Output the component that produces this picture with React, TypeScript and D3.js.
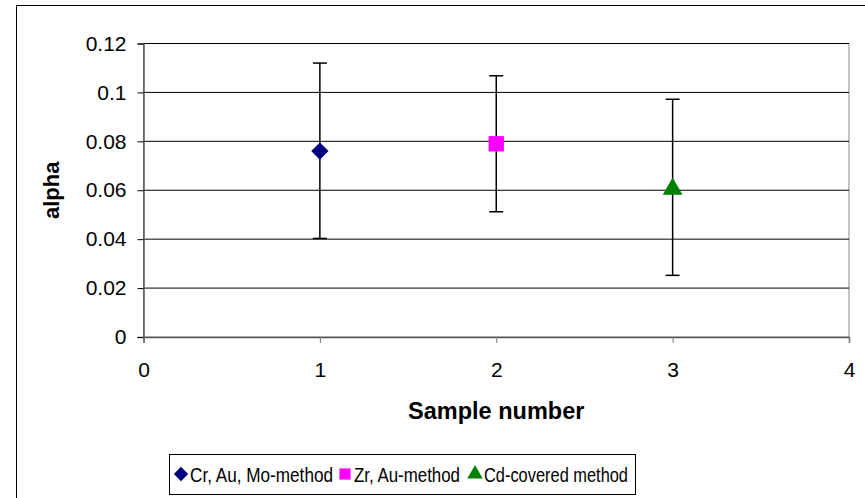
import React, { useEffect, useRef } from 'react'
import * as d3 from 'd3'

const samples = [1, 2, 3]
const alphaValues = [0.076, 0.079, 0.0605]
const errHigh = [0.112, 0.1068, 0.0972]
const errLow = [0.0403, 0.0512, 0.0252]
const seriesNames = ['Cr, Au, Mo-method', 'Zr, Au-method', 'Cd-covered method']
const seriesColors = ['#000080', '#FF00FF', '#008000']
const yTicks = [0, 0.02, 0.04, 0.06, 0.08, 0.1, 0.12]
const xTicks = [0, 1, 2, 3, 4]

const width = 865
const height = 498
const margin = { top: 43.5, right: 16, bottom: 161, left: 143.5 }
const font = "'Liberation Sans', Arial, sans-serif"

export default function App() {
    const ref = useRef<SVGSVGElement>(null)

    useEffect(() => {
        const svg = d3.select(ref.current)
        svg.selectAll('*').remove()

        const innerWidth = width - margin.left - margin.right
        const innerHeight = height - margin.top - margin.bottom

        const x = d3.scaleLinear().domain([0, 4]).range([0, innerWidth])
        const y = d3.scaleLinear().domain([0, 0.12]).range([innerHeight, 0])

        // outer chart frame
        svg.append('rect')
            .attr('x', 16.5).attr('y', 5.5)
            .attr('width', 900).attr('height', 600)
            .attr('fill', '#fff').attr('stroke', '#000')

        const g = svg.append('g')
            .attr('transform', `translate(${margin.left},${margin.top})`)

        // plot area border
        g.append('rect')
            .attr('width', innerWidth).attr('height', innerHeight)
            .attr('fill', 'none').attr('stroke', '#888')

        // gridlines
        g.selectAll('.grid')
            .data(yTicks.filter(t => t > 0))
            .enter().append('line')
            .attr('x1', 0).attr('x2', innerWidth)
            .attr('y1', d => y(d)).attr('y2', d => y(d))
            .attr('stroke', '#000')

        const yAxis = g.append('g')
            .call(d3.axisLeft(y).tickValues(yTicks).tickSize(6).tickPadding(11).tickFormat(d => String(+d)))
        yAxis.select('.domain').attr('stroke', '#555').attr('stroke-width', 1.5)
        yAxis.selectAll('.tick line').attr('stroke', '#000')
        yAxis.selectAll('text').attr('font-family', font).attr('font-size', 21).attr('fill', '#000')

        const xAxis = g.append('g')
            .attr('transform', `translate(0,${innerHeight})`)
            .call(d3.axisBottom(x).tickValues(xTicks).tickSize(6).tickPadding(19).tickFormat(d => String(d)))
        xAxis.select('.domain').attr('stroke', '#555').attr('stroke-width', 1.5)
        xAxis.selectAll('.tick line').attr('stroke', '#777')
        xAxis.selectAll('text').attr('font-family', font).attr('font-size', 21).attr('fill', '#000')

        // error bars
        const err = g.selectAll('.err')
            .data(samples)
            .enter().append('g')
            .attr('stroke', '#000').attr('stroke-width', 1.5)
        err.append('line')
            .attr('x1', d => x(d)).attr('x2', d => x(d))
            .attr('y1', (d, i) => y(errHigh[i])).attr('y2', (d, i) => y(errLow[i]))
        err.append('line')
            .attr('x1', d => x(d) - 7).attr('x2', d => x(d) + 7)
            .attr('y1', (d, i) => y(errHigh[i])).attr('y2', (d, i) => y(errHigh[i]))
        err.append('line')
            .attr('x1', d => x(d) - 7).attr('x2', d => x(d) + 7)
            .attr('y1', (d, i) => y(errLow[i])).attr('y2', (d, i) => y(errLow[i]))

        const shapes = [d3.symbolDiamond2, d3.symbolSquare2, d3.symbolTriangle2]
        const sizes = [190, 300, 280]
        g.selectAll('.pt')
            .data(samples)
            .enter().append('path')
            .attr('transform', (d, i) => `translate(${x(d)},${y(alphaValues[i])})`)
            .attr('d', (d, i) => d3.symbol(shapes[i], sizes[i])() as string)
            .attr('fill', (d, i) => seriesColors[i])
            .attr('stroke', 'none')

        // axis titles
        svg.append('text')
            .attr('x', margin.left + innerWidth / 2).attr('y', 419)
            .attr('text-anchor', 'middle')
            .attr('font-family', font).attr('font-weight', 'bold').attr('font-size', 23.5)
            .text('Sample number')
        svg.append('text')
            .attr('transform', `translate(59,${margin.top + innerHeight / 2}) rotate(-90)`)
            .attr('text-anchor', 'middle')
            .attr('font-family', font).attr('font-weight', 'bold').attr('font-size', 22)
            .text('alpha')

        // legend
        const legend = svg.append('g')
        legend.append('rect')
            .attr('x', 169.5).attr('y', 454.5).attr('width', 466).attr('height', 40)
            .attr('fill', '#fff').attr('stroke', '#000')
        const itemX = [181, 345, 475]
        const textW = [143, 106, 144]
        const items = legend.selectAll('.item')
            .data(seriesNames)
            .enter().append('g')
            .attr('transform', (d, i) => `translate(${itemX[i]},474)`)
        items.append('path')
            .attr('d', (d, i) => d3.symbol(shapes[i], [130, 160, 170][i])() as string)
            .attr('fill', (d, i) => seriesColors[i])
        items.append('text')
            .attr('x', 9).attr('y', 7.5)
            .attr('font-family', font).attr('font-size', 21)
            .attr('textLength', (d, i) => textW[i]).attr('lengthAdjust', 'spacingAndGlyphs')
            .text(d => d)
    }, [])

    return (
        <svg ref={ref} width={width} height={height}
            style={{ position: 'absolute', left: 0, top: 0, background: '#fff' }} />
    )
}
